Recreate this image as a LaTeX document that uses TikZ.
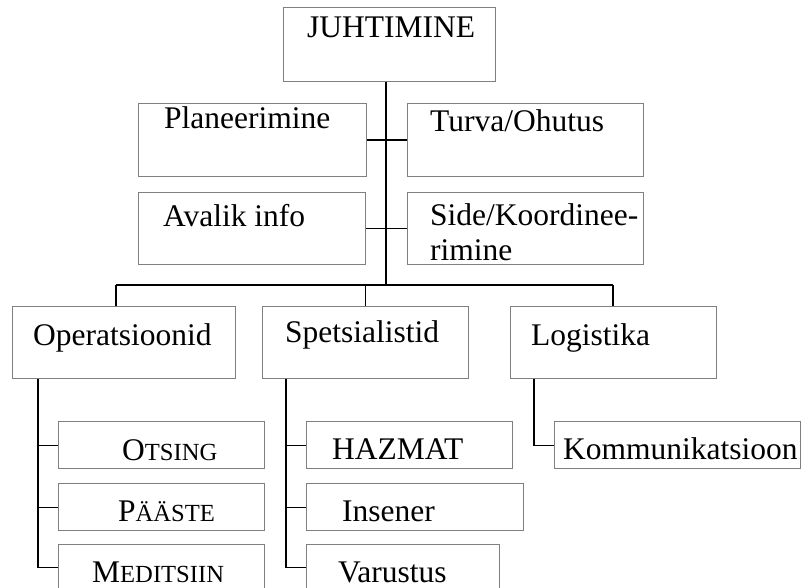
\documentclass[tikz,border=0pt]{standalone}
\usepackage{fontspec}
\setmainfont{Liberation Serif}
\newcommand{\smc}[1]{{\fontsize{24.6}{28}\selectfont #1}}
\begin{document}
\begin{tikzpicture}[x=1pt,y=-1pt,
  box/.style={draw={rgb,255:red,128;green,128;blue,128}, line width=1.3pt, fill=none, inner sep=0pt, anchor=north west},
  conn/.style={draw=black, line width=1.3pt},
  lbl/.style={anchor=base west, inner sep=0pt, font=\fontsize{31.5}{36}\selectfont}]
\clip (0,0) rectangle (802,588);
\fill[white] (0,0) rectangle (802,588);
% boxes
\node[box, minimum width=212pt, minimum height=74pt] (juht) at (283,7) {};
\node[box, minimum width=228pt, minimum height=73pt] (plan) at (138,103) {};
\node[box, minimum width=236pt, minimum height=73pt] (turva) at (407,103) {};
\node[box, minimum width=227pt, minimum height=72pt] (aval) at (138,192) {};
\node[box, minimum width=236pt, minimum height=72pt] (side) at (407,192) {};
\node[box, minimum width=223pt, minimum height=72pt] (ops) at (12,306) {};
\node[box, minimum width=206pt, minimum height=72pt] (spec) at (262,306) {};
\node[box, minimum width=206pt, minimum height=72pt] (log) at (510,306) {};
\node[box, minimum width=206pt, minimum height=47pt] (ots) at (58,421) {};
\node[box, minimum width=206pt, minimum height=47pt] (paa) at (58,483) {};
\node[box, minimum width=206pt, minimum height=46pt] (med) at (58,544) {};
\node[box, minimum width=206pt, minimum height=47pt] (haz) at (306,421) {};
\node[box, minimum width=217pt, minimum height=47pt] (ins) at (306,483) {};
\node[box, minimum width=193pt, minimum height=46pt] (var) at (306,544) {};
\node[box, minimum width=246pt, minimum height=47pt] (komm) at (554,421) {};
% texts
\node[lbl] (tjuht) at (307,38) {JUHTIMINE};
\node[lbl] (tplan) at (164,129) {Planeerimine};
\node[lbl] (tturva) at (430,132) {Turva/Ohutus};
\node[lbl] (taval) at (163,226) {Avalik info};
\node[lbl] (tside1) at (430,225) {Side/Koordinee-};
\node[lbl] (tside2) at (430,260) {rimine};
\node[lbl] (tops) at (33,345) {Operatsioonid};
\node[lbl] (tspec) at (285,342) {Spetsialistid};
\node[lbl] (tlog) at (531,345) {Logistika};
\node[lbl] (tots) at (122,460) {O\smc{TSING}};
\node[lbl] (tpaa) at (118,521) {P\smc{ÄÄSTE}};
\node[lbl] (tmed) at (92,582) {M\smc{EDITSIIN}};
\node[lbl] (thaz) at (332,459) {HAZMAT};
\node[lbl] (tins) at (342,521) {Insener};
\node[lbl] (tvar) at (338,582) {Varustus};
\node[lbl] (tkomm) at (563,459) {Kommunikatsioon};
% connectors
\coordinate (trunk) at (386,285);
\coordinate (barL) at (116,285);
\coordinate (barR) at (613,285);
\coordinate (opv) at (38,0);
\coordinate (spv) at (286,0);
\coordinate (lgv) at (534,0);
\draw[conn] (juht.south -| trunk) -- (trunk);
\draw[conn] (plan.east) -- (turva.west);
\draw[conn] (aval.east) -- (side.west);
\draw[conn] (barL) -- (barR);
\draw[conn] (barL) -- (barL |- ops.north);
\draw[conn] (spec.north |- barL) -- (spec.north);
\draw[conn] (barR) -- (barR |- log.north);
\draw[conn] (ops.south -| opv) |- (med.west);
\draw[conn] (ots.west -| opv) -- (ots.west);
\draw[conn] (paa.west -| opv) -- (paa.west);
\draw[conn] (spec.south -| spv) |- (var.west);
\draw[conn] (haz.west -| spv) -- (haz.west);
\draw[conn] (ins.west -| spv) -- (ins.west);
\draw[conn] (log.south -| lgv) |- (komm.west);
\end{tikzpicture}
\end{document}
